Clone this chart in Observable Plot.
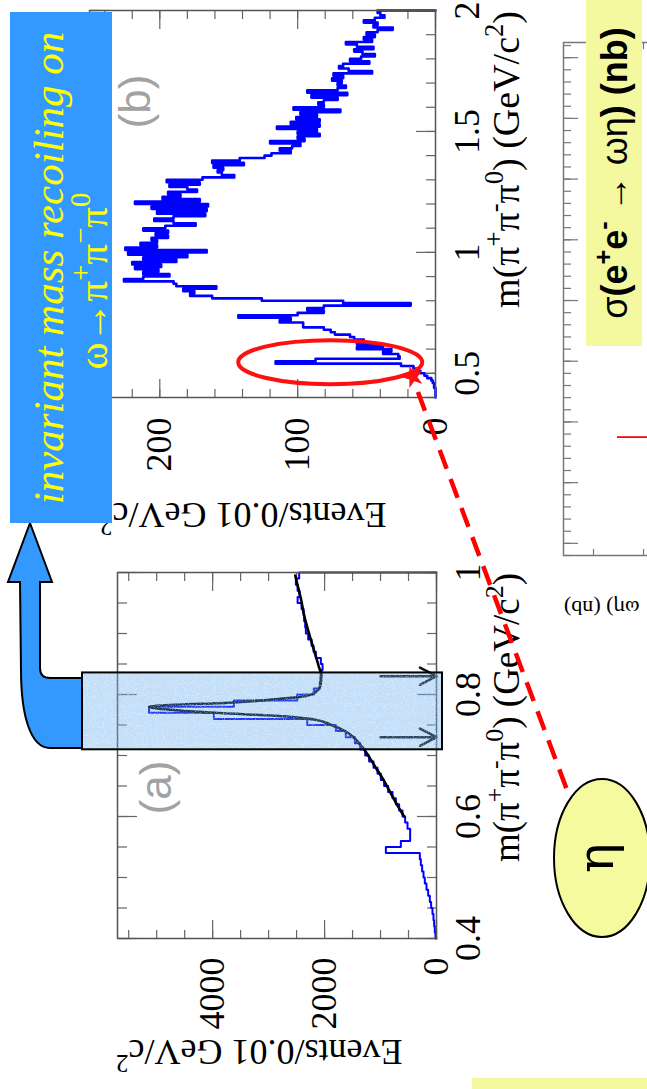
<!DOCTYPE html>
<html>
<head>
<meta charset="utf-8">
<script src="https://cdn.jsdelivr.net/npm/d3@7"></script>
<script src="https://cdn.jsdelivr.net/npm/@observablehq/plot@0.6"></script>
<style>
  html, body { margin: 0; padding: 0; background: #fff; overflow: hidden; width: 647px; height: 1089px; }
  /* the slide is laid out landscape and turned a quarter turn to fit the portrait page */
  #slide { position: absolute; left: 0; top: 0; width: 1089px; height: 647px; overflow: hidden; background: #fff;
           transform-origin: 0 0; transform: translate(0px, 1089px) rotate(-90deg); font-family: "Liberation Serif", serif; }
</style>
</head>
<body>
<div id="slide"></div>
<script>
// ---------- (a) m(pi+ pi- pi0), 0.01 GeV bins from 0.40 to 1.00 ----------
const massLoA = 0.40, binWidthA = 0.01;
const countsA = [
  18, 30, 42, 54, 72, 96, 119, 149, 179, 209,
  232, 257, 280, 298, 905, 637, 471, 471, 518, 560,
  607, 668, 727, 786, 864, 936, 995, 1054, 1125, 1204,
  1275, 1364, 1459, 1620, 1798, 2310, 3977, 5137, 3620, 2488,
  2191, 2084, 2072, 2054, 2036, 2066, 2156, 2197, 2232, 2293,
  2334, 2346, 2365, 2375, 2411, 2482, 2447, 2482, 2513, 2454
];
// fitted curve (signal peak + smooth background)
const fitMassA  = [0.600, 0.620, 0.640, 0.660, 0.680, 0.700, 0.710, 0.720, 0.730, 0.740, 0.750, 0.759, 0.764, 0.770, 0.777, 0.780, 0.782, 0.787, 0.793, 0.798, 0.806, 0.816, 0.830, 0.848, 0.875, 0.903, 0.930, 0.957, 0.979, 0.995];
const fitCountA = [578, 709, 828, 947, 1084, 1221, 1293, 1382, 1483, 1638, 1880, 2191, 2667, 3977, 4989, 5137, 4929, 3620, 2786, 2310, 2131, 2072, 2060, 2110, 2197, 2287, 2365, 2423, 2482, 2524];
const windowA = [0.73, 0.83];          // omega selection window
const massTicksA = [0.4, 0.6, 0.8, 1.0];
const countTicksA = [0, 2000, 4000];

// ---------- (b) recoil mass, 0.01 GeV bins from 0.40 to 2.00 ----------
const massLoB = 0.40, binWidthB = 0.01;
const countsB = [
  0, 0, 0, 0, 1, 1, 2, 3, 6, 8,
  11, 13, 16, 25, 116, 87, 26, 27, 38, 32,
  57, 38, 57, 52, 59, 62, 73, 76, 81, 96,
  96, 113, 105, 143, 100, 81, 93, 81, 18, 67,
  126, 162, 178, 175, 183, 159, 188, 190, 226, 212,
  193, 212, 201, 218, 199, 220, 188, 212, 180, 223,
  166, 225, 202, 214, 202, 206, 194, 203, 194, 212,
  196, 174, 190, 204, 190, 167, 202, 166, 206, 165,
  218, 171, 198, 185, 194, 173, 180, 193, 171, 195,
  169, 146, 155, 158, 154, 161, 139, 162, 142, 124,
  119, 105, 113, 104, 98, 120, 95, 100, 84, 100,
  86, 115, 84, 105, 84, 101, 86, 98, 69, 103,
  81, 85, 81, 71, 90, 64, 93, 71, 65, 71,
  68, 75, 67, 74, 46, 63, 70, 67, 48, 62,
  54, 44, 53, 59, 45, 57, 65, 46, 52, 44,
  50, 42, 31, 45, 42, 52, 44, 37, 40, 42
];
const massTicksB = [0.5, 1.0, 1.5, 2.0];
const countTicksB = [0, 100, 200];
const etaPeak = {mass: 0.548, count: 76};   // circled eta signal
const etaMarker = {mass: 0.487, count: 16};

// ---------- cross-section panel (only its upper edge is on the slide) ----------
const sigmaEnergy = [1.475];
const sigmaHigh = [2.26];
const sigmaLow = [1.2];

// ---------- helpers ----------
function histOutline(lo, width, counts) {
  const pts = [{m: lo, n: 0}];
  counts.forEach((n, i) => pts.push({m: +(lo + i * width).toFixed(4), n}));
  const hi = +(lo + counts.length * width).toFixed(4);
  pts.push({m: hi, n: counts[counts.length - 1]}, {m: hi, n: 0});
  return pts;
}
const fmt = d => String(+d.toFixed(2));

// ROOT-style ticks pointing into the frame on all four sides
function inwardTicks(xMinor, xMajor, yMinor, yMajor, short = 9, long = 19, stroke = "#666") {
  const o = {stroke, strokeWidth: 1.2, fill: "none", label: null, tickFormat: () => ""};
  return [
    Plot.axisX(xMinor, {...o, anchor: "bottom", tickSize: short, dy: -short}),
    Plot.axisX(xMajor, {...o, anchor: "bottom", tickSize: long, dy: -long}),
    Plot.axisX(xMinor, {...o, anchor: "top", tickSize: short, dy: short}),
    Plot.axisX(xMajor, {...o, anchor: "top", tickSize: long, dy: long}),
    Plot.axisY(yMinor, {...o, anchor: "left", tickSize: short, dx: short}),
    Plot.axisY(yMajor, {...o, anchor: "left", tickSize: long, dx: long}),
    Plot.axisY(yMinor, {...o, anchor: "right", tickSize: short, dx: -short}),
    Plot.axisY(yMajor, {...o, anchor: "right", tickSize: long, dx: -long})
  ];
}
const axisFont = {fontFamily: "Liberation Serif, serif", fontSize: "36px", background: "transparent", overflow: "visible", color: "#000"};

// ---------- panel (a) ----------
const plotA = Plot.plot({
  width: 560, height: 500,
  marginLeft: 150, marginRight: 44, marginTop: 117, marginBottom: 64,
  x: {domain: [0.4, 1.0], axis: null},
  y: {domain: [0, 5700], axis: null},
  style: axisFont,
  marks: [
    ...inwardTicks(d3.range(0.4, 1.0001, 0.05), massTicksA, d3.range(0, 5700, 500), countTicksA),
    Plot.axisX(massTicksA, {anchor: "bottom", tickSize: 0, tickPadding: 18, tickFormat: fmt, label: null, fontSize: 36}),
    Plot.axisY(countTicksA, {anchor: "left", tickSize: 0, tickPadding: 19, tickFormat: fmt, label: null, fontSize: 36}),
    Plot.line(histOutline(massLoA, binWidthA, countsA), {x: "m", y: "n", curve: "step-after", stroke: "#0000ff", strokeWidth: 2}),
    Plot.line(fitMassA.map((m, i) => ({m, n: fitCountA[i]})), {x: "m", y: "n", curve: "monotone-x", stroke: "#000", strokeWidth: 2.6}),
    Plot.arrow(windowA, {x1: d => d, x2: d => d, y1: 1000, y2: 0, stroke: "#111", strokeWidth: 2.5, headLength: 14, headAngle: 55}),
    Plot.text(["(a)"], {frameAnchor: "top-left", dx: 151, dy: 39, textAnchor: "middle", lineAnchor: "middle", fill: "#a2a2a2", fontSize: 44, fontFamily: "Liberation Sans, sans-serif"}),
    Plot.frame({stroke: "#555", strokeWidth: 1.5})
  ]
});

// ---------- panel (b) ----------
const plotB = Plot.plot({
  width: 589, height: 500,
  marginLeft: 191, marginRight: 11, marginTop: 89, marginBottom: 65,
  x: {domain: [0.4, 2.0], axis: null},
  y: {domain: [0, 251], axis: null},
  style: axisFont,
  marks: [
    ...inwardTicks(d3.range(0.4, 2.0001, 0.1), massTicksB, d3.range(0, 251, 20), countTicksB),
    Plot.axisX(massTicksB, {anchor: "bottom", tickSize: 0, tickPadding: 18, tickFormat: fmt, label: null, fontSize: 36}),
    Plot.axisY(countTicksB, {anchor: "left", tickSize: 0, tickPadding: 20, tickFormat: fmt, label: null, fontSize: 36}),
    Plot.line(histOutline(massLoB, binWidthB, countsB), {x: "m", y: "n", curve: "step-after", stroke: "#0000ff", strokeWidth: 2.6}),
    Plot.text(["(b)"], {frameAnchor: "top-left", dx: 296, dy: 46, textAnchor: "middle", lineAnchor: "middle", fill: "#a2a2a2", fontSize: 44, fontFamily: "Liberation Sans, sans-serif"}),
    Plot.frame({stroke: "#555", strokeWidth: 1.5})
  ]
});

// ---------- cross-section panel ----------
const plotC = Plot.plot({
  width: 640, height: 330,
  marginLeft: 93, marginRight: 34, marginTop: 23, marginBottom: 27,
  x: {domain: [1.28, 2.125], axis: null},
  y: {domain: [0, 2.8], axis: null},
  style: {...axisFont, fontSize: "16px"},
  marks: [
    ...inwardTicks(d3.range(1.28, 2.125, 0.02), d3.range(1.3, 2.125, 0.1), d3.range(0, 2.8, 0.5), [], 7, 14, "#777"),
    Plot.ruleX(sigmaEnergy.map((e, i) => ({e, lo: sigmaLow[i], hi: sigmaHigh[i]})), {x: "e", y1: "lo", y2: "hi", stroke: "#ff0000", strokeWidth: 1.6}),
    Plot.frame({stroke: "#777", strokeWidth: 1.5})
  ]
});

const slide = document.getElementById("slide");
function place(svg, left, top) {
  svg.style.position = "absolute";
  svg.style.left = left + "px";
  svg.style.top = top + "px";
  svg.style.maxWidth = "none";
  slide.appendChild(svg);
}
const offA = [0, 0], offB = [500, 0], offC = [440, 540];
place(plotC, ...offC);
place(plotA, ...offA);
place(plotB, ...offB);

// ---------- slide annotations ----------
const ov = d3.select(slide).append("svg")
  .attr("width", 1089).attr("height", 647)
  .style("position", "absolute").style("left", "0px").style("top", "0px");

// fine dither texture used on the highlighted window
const defs = ov.append("defs");
const speckle = defs.append("filter").attr("id", "speckle").attr("x", 0).attr("y", 0).attr("width", 1).attr("height", 1);
speckle.append("feTurbulence").attr("type", "fractalNoise").attr("baseFrequency", 0.9).attr("numOctaves", 1).attr("seed", 4).attr("result", "noise");
speckle.append("feColorMatrix").attr("in", "noise").attr("type", "matrix")
  .attr("values", "0 0 0 0 1  0 0 0 0 1  0 0 0 0 1  -3 0 0 0 1.55").attr("result", "dots");
speckle.append("feComposite").attr("in", "dots").attr("in2", "SourceGraphic").attr("operator", "in");

function rich(parent, {x, y, anchor = "start", size, family = "Liberation Serif, serif", style = null, weight = null, fill = "#000", rotate = 0}, parts) {
  const t = parent.append("text")
    .attr("text-anchor", anchor).attr("font-size", size).attr("font-family", family).attr("fill", fill);
  if (style) t.attr("font-style", style);
  if (weight) t.attr("font-weight", weight);
  if (rotate) t.attr("transform", `translate(${x},${y}) rotate(${rotate})`);
  else t.attr("x", x).attr("y", y);
  let shift = 0;
  for (const p of parts) {
    const [s, kind] = typeof p === "string" ? [p, null] : p;
    const target = kind === "sup" ? -0.42 * size : 0;
    const ts = t.append("tspan").attr("dy", target - shift).text(s);
    if (kind) ts.attr("font-size", size * 0.7);
    if (Array.isArray(p) && p[2]) ts.attr("font-weight", p[2]);
    shift = target;
  }
  return t;
}

const massTitle = ["m(π", ["+", "sup"], "π", ["-", "sup"], "π", ["0", "sup"], ") (GeV/c", ["2", "sup"], ")"];
const countTitle = ["Events/0.01 GeV/c", ["2", "sup"]];

// axis titles
rich(ov, {x: 516, y: 519, anchor: "end", size: 37}, massTitle);
rich(ov, {x: 1078, y: 519, anchor: "end", size: 38}, massTitle);
rich(ov, {x: 49, y: 116, anchor: "end", size: 36, rotate: -90}, countTitle);
rich(ov, {x: 586, y: 100, anchor: "end", size: 36, rotate: -90}, countTitle);
rich(ov, {x: 488, y: 564, anchor: "end", size: 22, rotate: -90}, ["σ(e", ["+", "sup"], "e", ["-", "sup"], " → ωη) (nb)"]);

// omega mass window highlighted on panel (a)
const xA = v => plotA.scale("x").apply(v) + offA[0];
const xB = v => plotB.scale("x").apply(v) + offB[0];
const yB = v => plotB.scale("y").apply(v) + offB[1];
const winLo = xA(0.711), winHi = xA(0.837);
ov.append("rect").attr("x", winLo).attr("y", 82).attr("width", winHi - winLo).attr("height", 360)
  .attr("fill", "rgb(80,160,235)").attr("fill-opacity", 0.35);
ov.append("rect").attr("x", winLo).attr("y", 82).attr("width", winHi - winLo).attr("height", 360)
  .attr("fill", "#fff").attr("opacity", 0.55).attr("filter", "url(#speckle)");
ov.append("rect").attr("x", winLo).attr("y", 82).attr("width", winHi - winLo).attr("height", 360)
  .attr("fill", "none").attr("stroke", "#000").attr("stroke-width", 2);

// bent arrow from the window to the label box
ov.append("path")
  .attr("d", "M566,30 L507,52 L507,40 L421,40 Q411,40 411,50 L411,82 L341,82 L341,50 C341,30 375,21 419,21 L507,20 L507,8 Z")
  .attr("fill", "#3399ff").attr("stroke", "#000").attr("stroke-width", 2).attr("stroke-linejoin", "miter");

// label box
ov.append("rect").attr("x", 566).attr("y", 10).attr("width", 511).attr("height", 102).attr("fill", "#3399ff");
rich(ov, {x: 821, y: 63, anchor: "middle", size: 43, style: "italic", fill: "#ffff00"}, ["invariant mass recoiling on"]);
rich(ov, {x: 808, y: 107, anchor: "middle", size: 41, fill: "#ffff00"}, ["ω→π", ["+", "sup"], "π", ["−", "sup"], "π", ["0", "sup"]]);

// eta signal circled on panel (b) and tied to the eta label
const ex = xB(etaPeak.mass), ey = yB(etaPeak.count);
ov.append("ellipse").attr("cx", ex).attr("cy", ey).attr("rx", 22).attr("ry", 92)
  .attr("fill", "none").attr("stroke", "#ff1010").attr("stroke-width", 4);
const mx = xB(etaMarker.mass), my = yB(etaMarker.count);
ov.append("path").attr("transform", `translate(${mx},${my})`)
  .attr("d", d3.symbol(d3.symbolStar, 150)()).attr("fill", "#ff1010");
ov.append("line").attr("x1", mx - 15).attr("y1", my + 5).attr("x2", 299).attr("y2", 567)
  .attr("stroke", "#ff0000").attr("stroke-width", 4.5).attr("stroke-dasharray", "20 11");

ov.append("ellipse").attr("cx", 231).attr("cy", 602).attr("rx", 79).attr("ry", 48)
  .attr("fill", "#f6fa9f").attr("stroke", "#000").attr("stroke-width", 2);
rich(ov, {x: 231, y: 613, anchor: "middle", size: 50, family: "DejaVu Serif, serif"}, ["η"]);

// cross-section label
ov.append("rect").attr("x", 743).attr("y", 586).attr("width", 346).attr("height", 56).attr("fill", "#f4f9a0");
rich(ov, {x: 916, y: 627, anchor: "middle", size: 36, family: "Liberation Sans, sans-serif"},
  [["σ", null, "normal"], ["(e", null, "bold"], ["+", "sup", "bold"], ["e", null, "bold"], ["-", "sup", "bold"], [" → ωη", null, "normal"], [") (nb)", null, "bold"]]);

// next label box, cut by the slide edge
ov.append("rect").attr("x", 0).attr("y", 472).attr("width", 11).attr("height", 175).attr("fill", "#f4f9a0");
</script>
</body>
</html>
